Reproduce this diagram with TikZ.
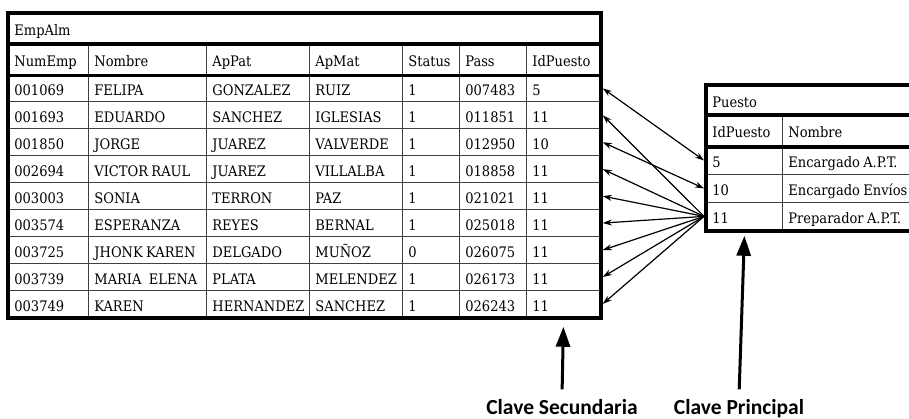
\documentclass[tikz,border=0pt]{standalone}
\usepackage{fontspec}
\setmainfont{DejaVu Serif Condensed}
\newfontfamily\keyfont{Carlito}
\usetikzlibrary{positioning,arrows.meta}

\tikzset{
  cell/.style={draw=black!75, line width=0.8pt, anchor=north west,
    inner xsep=6pt, inner ysep=0pt, align=left,
    text height=16pt, text depth=1pt,
    execute at begin node=\fontsize{14.5}{16}\selectfont},
  frame/.style={line width=3.5pt},
  link/.style={-{Stealth[length=9pt,width=6pt]}, line width=1.2pt},
  linkboth/.style={{Stealth[length=9pt,width=6pt]}-{Stealth[length=9pt,width=6pt]}, line width=1.2pt},
  keyarrow/.style={-{Triangle[length=20pt,width=14pt]}, line width=3pt, shorten <=6pt},
  keylabel/.style={anchor=base, font=\keyfont\bfseries\fontsize{21.5}{24}\selectfont}
}

\begin{document}
\begin{tikzpicture}[x=1pt,y=-1pt]
  \useasboundingbox (0,0) rectangle (909,419);
  \clip (0,0) rectangle (909,419);

  % tabla EmpAlm
  \node[cell, minimum height=30pt, text width=580pt] (empalm) at (8,13) {EmpAlm};
  \foreach \txt [count=\c] in {NumEmp,Nombre,ApPat,ApMat,Status,Pass,IdPuesto} {
    \pgfmathsetmacro\cx{{8,88,206,309,402,459,526}[\c-1]}
    \pgfmathsetmacro\tw{{80,118,103,93,57,67,74}[\c-1]-12}
    \node[cell, minimum height=31.5pt, text width=\tw pt] (e-0-\c) at (\cx,43) {\txt};
  }
  \foreach \line [count=\r] in {
      {001069,FELIPA,GONZALEZ,RUIZ,1,007483,5},
      {001693,EDUARDO,SANCHEZ,IGLESIAS,1,011851,11},
      {001850,JORGE,JUAREZ,VALVERDE,1,012950,10},
      {002694,VICTOR RAUL,JUAREZ,VILLALBA,1,018858,11},
      {003003,SONIA,TERRON,PAZ,1,021021,11},
      {003574,ESPERANZA,REYES,BERNAL,1,025018,11},
      {003725,JHONK KAREN,DELGADO,MUÑOZ,0,026075,11},
      {003739,MARIA\enspace ELENA,PLATA,MELENDEZ,1,026173,11},
      {003749,KAREN,HERNANDEZ,SANCHEZ,1,026243,11}} {
    \foreach \txt [count=\c] in \line {
      \pgfmathsetmacro\cx{{8,88,206,309,402,459,526}[\c-1]}
      \pgfmathsetmacro\tw{{80,118,103,93,57,67,74}[\c-1]-12}
      \pgfmathsetmacro\ry{74.5+26.94*(\r-1)}
      \node[cell, minimum height=26.94pt, text width=\tw pt] (e-\r-\c) at (\cx,\ry) {\txt};
    }
  }
  \draw[frame] (empalm.north west) rectangle (e-9-7.south east);
  \draw[frame] (empalm.south west) -- (empalm.south east);
  \draw[frame] (e-0-1.south west) -- (e-0-7.south east);

  % tabla Puesto
  \node[cell, minimum height=29pt, text width=248pt] (puesto) at (706,85) {Puesto};
  \node[cell, minimum height=32pt, text width=64pt] (p-0-1) at (706,114) {IdPuesto};
  \node[cell, minimum height=32pt, text width=172pt] (p-0-2) at (782,114) {Nombre};
  \foreach \id/\nom [count=\r] in {5/Encargado A.P.T., 10/Encargado Envíos, 11/Preparador A.P.T.} {
    \pgfmathsetmacro\ry{146+28*(\r-1)}
    \node[cell, minimum height=28pt, text width=64pt] (p-\r-1) at (706,\ry) {\id};
    \node[cell, minimum height=28pt, text width=172pt] (p-\r-2) at (782,\ry) {\nom};
  }
  \draw[frame] (puesto.north west) rectangle (p-3-2.south east);
  \draw[frame] (puesto.south west) -- (puesto.south east);
  \draw[frame] (p-0-1.south west) -- (p-0-2.south east);

  % relaciones
  \draw[linkboth] ([xshift=-2pt]p-1-1.west) -- ([xshift=2pt]e-1-7.east);
  \draw[linkboth] ([xshift=-2pt]p-2-1.west) -- ([xshift=2pt]e-3-7.east);
  \foreach \r in {2,4,5,6,7,8,9}
    \draw[link] ([xshift=-2pt]p-3-1.west) -- ([xshift=2pt]e-\r-7.east);

  % claves
  \node[keylabel] (sec) at (562,414) {Clave Secundaria};
  \node[keylabel] (prin) at (739,414) {Clave Principal};
  \draw[keyarrow] (sec.north) -- ([yshift=-9pt]e-9-7.south);
  \draw[keyarrow] (prin.north) -- ([yshift=-5pt]p-3-1.south);
\end{tikzpicture}
\end{document}
